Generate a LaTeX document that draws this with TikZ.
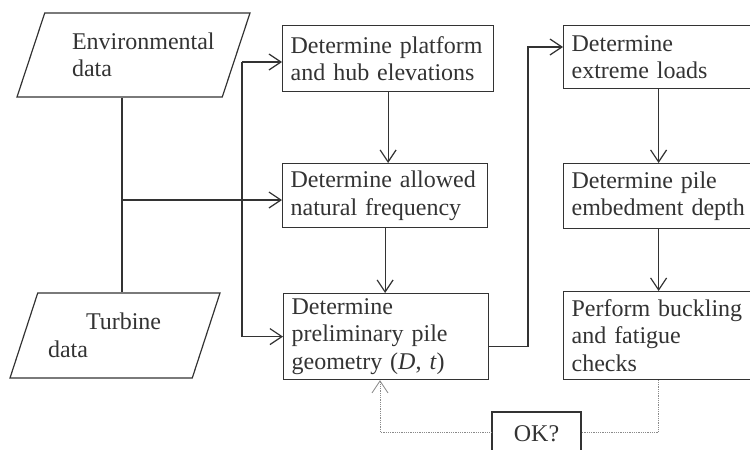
\documentclass[tikz,border=0pt]{standalone}
\usepackage{fontspec}
\setmainfont{Liberation Serif}
\usetikzlibrary{arrows.meta,shapes.geometric}
\definecolor{ink}{HTML}{333333}
\definecolor{dots}{HTML}{8A8A8A}
\hyphenpenalty=10000

\begin{document}
\begin{tikzpicture}[x=1pt,y=-1pt,line width=1.2pt,color=ink,
  font=\fontsize{24}{27.5}\selectfont,
  box/.style={draw,rectangle,anchor=north west,align=left,inner xsep=8pt,inner ysep=0pt},
  data/.style={draw,trapezium,trapezium left angle=58,trapezium right angle=122,trapezium stretches body,align=left,inner sep=0pt},
  arr/.style={-{Straight Barb[length=12pt,width=16pt]}},
  check/.style={densely dotted,line width=0.8pt,dots}]
\useasboundingbox (0,0) rectangle (750,450);
\clip (0,0) rectangle (750,450);
\node[data,minimum width=233pt,minimum height=84pt,text width=123pt] (env) at (133.5,55) {Environmental\\data};
\node[data,minimum width=210pt,minimum height=85pt,text width=134pt] (turb) at (115,335.5) {\hspace*{38pt}Turbine\\data};
\node[box,minimum height=66pt,text width=195pt] (plat) at (282,25) {Determine platform\\and hub elevations};
\node[box,minimum height=64pt,text width=189pt] (freq) at (282,163) {Determine allowed\\natural frequency};
\node[box,minimum height=86pt,text width=189pt] (geom) at (283,293) {Determine\\preliminary pile\\geometry (\textit{D}, \textit{t})};
\node[box,minimum height=63pt,text width=174pt] (loads) at (563,25) {Determine\\extreme loads};
\node[box,minimum height=65pt,text width=174pt] (embed) at (563,163) {Determine pile\\embedment depth};
\node[box,minimum height=88pt,text width=174pt] (checks) at (563,291) {Perform buckling\\and fatigue\\checks};
\node[draw,minimum width=89pt,minimum height=44pt,inner sep=0pt] (ok) at (536.5,434) {OK?};
\coordinate (bus) at (122,200);
\coordinate (feed) at (242,62);
\coordinate (riser) at (528,47);
\coordinate (fb) at (380,432);
\draw (env.south -| bus) -- (turb.north -| bus);
\draw[arr] (bus) -- (bus -| freq.west);
\draw[arr] (feed) -- (feed -| plat.west);
\draw[arr] (feed) -- (feed |- geom.west) -- (geom.west);
\draw[arr] (plat.south) -- (plat.south |- freq.north);
\draw[arr] (freq.south) -- (freq.south |- geom.north);
\draw[arr] ([yshift=-10pt]geom.east) -- ([yshift=-10pt]geom.east -| riser) -- (riser) -- (riser -| loads.west);
\draw[arr] (loads) -- (embed);
\draw[arr] (embed) -- (checks);
\draw[check] (checks.south) -- (checks.south |- fb) -- (fb -| ok.east);
\draw[check,arr] (fb -| ok.west) -- (fb) -- (fb |- geom.south);
\end{tikzpicture}
\end{document}
